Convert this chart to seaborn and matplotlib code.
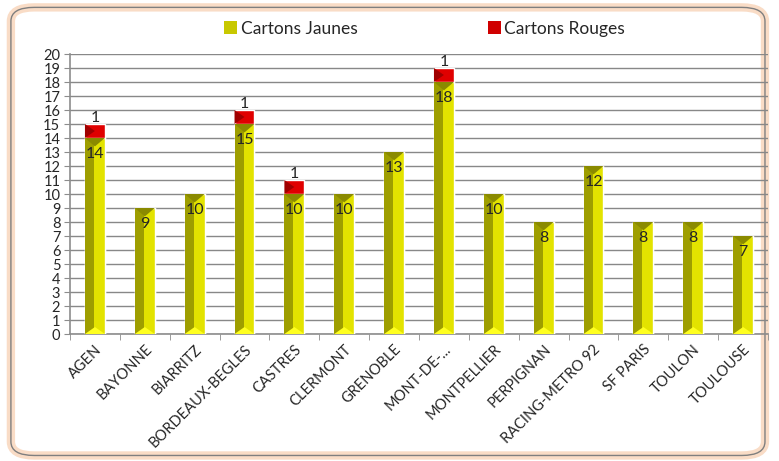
import numpy as np
import pandas as pd
import seaborn as sns
from matplotlib import pyplot as plt
from matplotlib.patches import FancyBboxPatch, Patch

clubs = ['AGEN', 'BAYONNE', 'BIARRITZ', 'BORDEAUX-BEGLES', 'CASTRES', 'CLERMONT',
         'GRENOBLE', 'MONT-DE-...', 'MONTPELLIER', 'PERPIGNAN', 'RACING-METRO 92',
         'SF PARIS', 'TOULON', 'TOULOUSE']
jaunes = [14, 9, 10, 15, 10, 10, 13, 18, 10, 8, 12, 8, 8, 7]
rouges = [1, 0, 0, 1, 1, 0, 0, 1, 0, 0, 0, 0, 0, 0]

df = pd.DataFrame({'club': clubs, 'jaunes': jaunes, 'rouges': rouges})
df['total'] = df['jaunes'] + df['rouges']

sns.set_style('white')
plt.rcParams['font.family'] = ['Lato', 'DejaVu Sans']

fig = plt.figure(figsize=(7.79, 4.61), dpi=100)
# rounded frame with soft orange glow
box = dict(boxstyle='round,pad=0,rounding_size=0.03', transform=fig.transFigure)
fig.patches.append(FancyBboxPatch((0.014, 0.012), 0.968, 0.972, facecolor='white', edgecolor='#f9dcc6',
                                  linewidth=6, zorder=-3, **box))
fig.patches.append(FancyBboxPatch((0.014, 0.012), 0.968, 0.972, facecolor='none', edgecolor='#7f7f7f',
                                  linewidth=1.0, zorder=-2, **box))

ax = fig.add_axes([70 / 779, 1 - 334 / 461, 698 / 779, 280 / 461])
ax.set_facecolor('none')

# red on the total, yellow over it
sns.barplot(data=df, x='club', y='total', color='#e00000', width=0.4, saturation=1, ax=ax, zorder=3)
sns.barplot(data=df, x='club', y='jaunes', color='#e3e300', width=0.4, saturation=1, ax=ax, zorder=4)
# darker left half of the yellow bars (bevel look)
yb = list(ax.patches[len(clubs):])
for p in yb:
    x0, w, h = p.get_x(), p.get_width(), p.get_height()
    ax.add_patch(plt.Rectangle((x0, 0), w * 0.45, h, facecolor='#9e9e00', edgecolor='none', zorder=5))
    ax.add_patch(plt.Polygon([[x0, h], [x0 + w, h], [x0 + w / 2, h - 0.6]], facecolor='#8a8a00',
                             edgecolor='none', zorder=6))
    ax.add_patch(plt.Polygon([[x0, 0], [x0 + w, 0], [x0 + w / 2, 0.5]], facecolor='#ffff20',
                             edgecolor='none', zorder=6))
rb = list(ax.patches[:len(clubs)])
for p, r in zip(rb, rouges):
    if r > 0:
        x0, w, h = p.get_x(), p.get_width(), p.get_height()
        ax.add_patch(plt.Polygon([[x0, h], [x0 + w / 2, h - r / 2], [x0, h - r]], facecolor='#a00000',
                                 edgecolor='none', zorder=6))

for i, (j, r) in enumerate(zip(jaunes, rouges)):
    ax.text(i, j - 0.65, str(j), ha='center', va='top', fontsize=11.5, zorder=7)
    if r > 0:
        ax.text(i, j + r - 0.05, str(r), ha='center', va='bottom', fontsize=11.5, zorder=7)

ax.set_ylim(0, 20)
ax.set_xlim(-0.5, len(clubs) - 0.5)
ax.set_yticks(range(0, 21))
ax.tick_params(axis='y', labelsize=10.5, length=4, color='#8c8c8c', left=True, pad=3)
ax.yaxis.grid(True, color='#888888', linewidth=1.0, zorder=0)
ax.set_axisbelow(True)
ax.set_xticks(range(len(clubs)))
ax.set_xticklabels(clubs, rotation=45, ha='right', rotation_mode='anchor', fontsize=10.5)
ax.tick_params(axis='x', length=0, pad=6)
ax.set_xticks(np.arange(-0.5, len(clubs)), minor=True)
ax.tick_params(axis='x', which='minor', length=4, color='#8c8c8c', bottom=True)
ax.set_xlabel('')
ax.set_ylabel('')
for s in ['top', 'right']:
    ax.spines[s].set_visible(False)
for s in ['left', 'bottom']:
    ax.spines[s].set_color('#8c8c8c')
    ax.spines[s].set_linewidth(1.2)

handles = [Patch(facecolor='#c8c800', edgecolor='none'), Patch(facecolor='#d00000', edgecolor='none')]
fig.legend(handles, ['Cartons Jaunes', 'Cartons Rouges'], loc='center', bbox_to_anchor=(0.545, 0.938),
           ncol=2, frameon=False, fontsize=12.5, handlelength=0.75, handleheight=0.75,
           handletextpad=0.2, columnspacing=7.5)

plt.savefig('out.png', dpi=100)
plt.close()
